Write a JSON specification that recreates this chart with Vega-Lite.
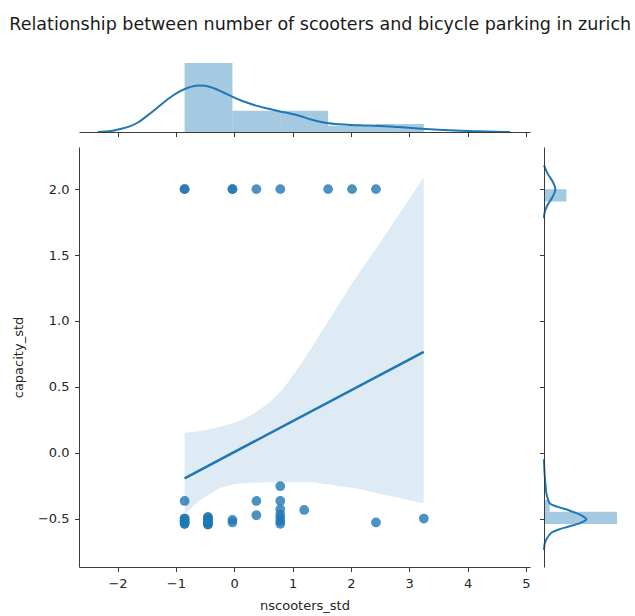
{
  "$schema": "https://vega.github.io/schema/vega-lite/v6.json",
  "padding": {"left": 9, "top": 16, "right": 5, "bottom": 5},
  "background": "white",
  "title": {"text": "Relationship between number of scooters and bicycle parking in zurich", "fontSize": 17.5, "font": "DejaVu Sans", "fontWeight": "normal", "color": "#1a1a1a", "offset": 14.5, "anchor": "middle"},
  "config": {
    "view": {"stroke": null},
    "axis": {"grid": false, "domainColor": "#3a3a3a", "tickColor": "#3a3a3a", "labelColor": "#262626", "titleColor": "#262626", "labelFont": "DejaVu Sans", "titleFont": "DejaVu Sans", "labelFontSize": 13, "titleFontSize": 13, "titleFontWeight": "normal", "tickSize": 4.5, "domainWidth": 1, "tickWidth": 1}
  },
  "datasets": {
    "points": [
      {"x": -0.85, "y": 2.0}, {"x": -0.85, "y": 2.0}, {"x": -0.03, "y": 2.0}, {"x": -0.03, "y": 2.0},
      {"x": 0.38, "y": 2.0}, {"x": 0.79, "y": 2.0}, {"x": 1.61, "y": 2.0}, {"x": 2.02, "y": 2.0}, {"x": 2.43, "y": 2.0},
      {"x": -0.85, "y": -0.367}, {"x": -0.85, "y": -0.5}, {"x": -0.85, "y": -0.5}, {"x": -0.85, "y": -0.52}, {"x": -0.85, "y": -0.52}, {"x": -0.85, "y": -0.54}, {"x": -0.85, "y": -0.54},
      {"x": -0.45, "y": -0.49}, {"x": -0.45, "y": -0.49}, {"x": -0.45, "y": -0.51}, {"x": -0.45, "y": -0.51}, {"x": -0.45, "y": -0.53}, {"x": -0.45, "y": -0.53}, {"x": -0.45, "y": -0.545}, {"x": -0.45, "y": -0.545},
      {"x": -0.03, "y": -0.51}, {"x": -0.03, "y": -0.53},
      {"x": 0.38, "y": -0.367}, {"x": 0.38, "y": -0.475},
      {"x": 0.79, "y": -0.255}, {"x": 0.79, "y": -0.367}, {"x": 0.79, "y": -0.43}, {"x": 0.79, "y": -0.47}, {"x": 0.79, "y": -0.495}, {"x": 0.79, "y": -0.52}, {"x": 0.79, "y": -0.54},
      {"x": 1.2, "y": -0.435}, {"x": 2.43, "y": -0.53}, {"x": 3.25, "y": -0.5}
    ],
    "regline": [{"x": -0.85, "y": -0.195}, {"x": 3.25, "y": 0.765}],
    "band": [
      {"x": -0.85, "lo": -0.47, "hi": 0.15}, {"x": -0.76, "lo": -0.43, "hi": 0.155}, {"x": -0.65, "lo": -0.385, "hi": 0.16},
      {"x": -0.533, "lo": -0.347, "hi": 0.168}, {"x": -0.4, "lo": -0.31, "hi": 0.18}, {"x": -0.246, "lo": -0.271, "hi": 0.198},
      {"x": 0.041, "lo": -0.238, "hi": 0.232}, {"x": 0.326, "lo": -0.228, "hi": 0.295}, {"x": 0.785, "lo": -0.225, "hi": 0.46},
      {"x": 1.1, "lo": -0.225, "hi": 0.645}, {"x": 1.3, "lo": -0.225, "hi": 0.78}, {"x": 1.5, "lo": -0.235, "hi": 0.92},
      {"x": 1.873, "lo": -0.258, "hi": 1.18}, {"x": 2.0, "lo": -0.265, "hi": 1.27}, {"x": 2.447, "lo": -0.309, "hi": 1.56},
      {"x": 2.8, "lo": -0.34, "hi": 1.79}, {"x": 3.247, "lo": -0.385, "hi": 2.09}
    ],
    "histx": [
      {"bin_start": -0.85, "bin_end": -0.03, "density": 0.69},
      {"bin_start": -0.03, "bin_end": 0.79, "density": 0.213},
      {"bin_start": 0.79, "bin_end": 1.61, "density": 0.213},
      {"bin_start": 1.61, "bin_end": 2.43, "density": 0.063},
      {"bin_start": 2.43, "bin_end": 3.25, "density": 0.08}
    ],
    "kdex": [
      {"x": -2.34, "density": 0}, {"x": -2.2, "density": 0.004}, {"x": -2.08, "density": 0.013}, {"x": -1.95, "density": 0.03},
      {"x": -1.79, "density": 0.056}, {"x": -1.65, "density": 0.095}, {"x": -1.505, "density": 0.156}, {"x": -1.36, "density": 0.222},
      {"x": -1.22, "density": 0.29}, {"x": -1.08, "density": 0.352}, {"x": -0.933, "density": 0.406}, {"x": -0.78, "density": 0.445},
      {"x": -0.62, "density": 0.466}, {"x": -0.5, "density": 0.462}, {"x": -0.36, "density": 0.44}, {"x": -0.2, "density": 0.4},
      {"x": -0.045, "density": 0.356}, {"x": 0.14, "density": 0.31}, {"x": 0.326, "density": 0.273}, {"x": 0.55, "density": 0.238},
      {"x": 0.785, "density": 0.206}, {"x": 0.96, "density": 0.185}, {"x": 1.13, "density": 0.16}, {"x": 1.3, "density": 0.128},
      {"x": 1.45, "density": 0.105}, {"x": 1.588, "density": 0.09}, {"x": 1.8, "density": 0.077}, {"x": 2.0, "density": 0.07},
      {"x": 2.2, "density": 0.066}, {"x": 2.418, "density": 0.063}, {"x": 2.6, "density": 0.058}, {"x": 2.8, "density": 0.05},
      {"x": 3.0, "density": 0.042}, {"x": 3.22, "density": 0.033}, {"x": 3.5, "density": 0.023}, {"x": 3.88, "density": 0.013},
      {"x": 4.2, "density": 0.007}, {"x": 4.5, "density": 0.003}, {"x": 4.73, "density": 0}
    ],
    "histy": [
      {"bin_start": -0.542, "bin_end": -0.448, "density": 7.3},
      {"bin_start": -0.448, "bin_end": -0.359, "density": 0.57},
      {"bin_start": 1.906, "bin_end": 2.0, "density": 2.24}
    ],
    "kdey": [
      {"seg": "low", "cap": -0.74, "density": 0}, {"seg": "low", "cap": -0.69, "density": 0.07}, {"seg": "low", "cap": -0.65, "density": 0.3},
      {"seg": "low", "cap": -0.608, "density": 0.74}, {"seg": "low", "cap": -0.585, "density": 1.4}, {"seg": "low", "cap": -0.562, "density": 2.4},
      {"seg": "low", "cap": -0.535, "density": 3.6}, {"seg": "low", "cap": -0.506, "density": 4.24}, {"seg": "low", "cap": -0.475, "density": 3.7},
      {"seg": "low", "cap": -0.455, "density": 3.1}, {"seg": "low", "cap": -0.435, "density": 2.4}, {"seg": "low", "cap": -0.41, "density": 1.3},
      {"seg": "low", "cap": -0.385, "density": 0.57}, {"seg": "low", "cap": -0.35, "density": 0.38}, {"seg": "low", "cap": -0.309, "density": 0.24},
      {"seg": "low", "cap": -0.25, "density": 0.16}, {"seg": "low", "cap": -0.2, "density": 0.1}, {"seg": "low", "cap": -0.106, "density": 0.02},
      {"seg": "low", "cap": -0.05, "density": 0},
      {"seg": "high", "cap": 1.78, "density": 0}, {"seg": "high", "cap": 1.82, "density": 0.05}, {"seg": "high", "cap": 1.88, "density": 0.35},
      {"seg": "high", "cap": 1.94, "density": 0.85}, {"seg": "high", "cap": 2.0, "density": 1.14}, {"seg": "high", "cap": 2.06, "density": 0.85},
      {"seg": "high", "cap": 2.12, "density": 0.35}, {"seg": "high", "cap": 2.18, "density": 0}
    ]
  },
  "spacing": 15,
  "bounds": "flush",
  "resolve": {"scale": {"x": "independent", "y": "independent"}},
  "vconcat": [
    {
      "width": 451,
      "height": 84,
      "layer": [
        {
          "data": {"name": "histx"},
          "mark": {"type": "rect", "color": "#1f77b4", "opacity": 0.4},
          "encoding": {
            "x": {"field": "bin_start", "type": "quantitative", "scale": {"domain": [-2.66, 5.07], "nice": false, "zero": false}, "axis": {"values": [-2, -1, 0, 1, 2, 3, 4, 5], "labels": false, "title": null, "zindex": 1}},
            "x2": {"field": "bin_end"},
            "y": {"field": "density", "type": "quantitative", "scale": {"domain": [0, 0.84], "nice": false}, "axis": null},
            "y2": {"datum": 0}
          }
        },
        {
          "data": {"name": "kdex"},
          "mark": {"type": "line", "color": "#1f77b4", "strokeWidth": 2, "interpolate": "monotone"},
          "encoding": {
            "x": {"field": "x", "type": "quantitative", "title": null},
            "y": {"field": "density", "type": "quantitative"}
          }
        }
      ]
    },
    {
      "spacing": 14,
      "bounds": "flush",
      "resolve": {"scale": {"x": "independent", "y": "independent"}},
      "hconcat": [
        {
          "width": 451,
          "height": 420,
          "layer": [
            {
              "data": {"name": "band"},
              "mark": {"type": "area", "color": "#1f77b4", "opacity": 0.15, "interpolate": "monotone"},
              "encoding": {
                "x": {"field": "x", "type": "quantitative", "title": "nscooters_std", "scale": {"domain": [-2.66, 5.07], "nice": false, "zero": false}, "axis": {"values": [-2, -1, 0, 1, 2, 3, 4, 5], "format": "d", "labelPadding": 6, "titlePadding": 9}},
                "y": {"field": "lo", "type": "quantitative", "title": "capacity_std", "scale": {"domain": [-0.868, 2.32], "nice": false, "zero": false}, "axis": {"values": [-0.5, 0, 0.5, 1, 1.5, 2], "format": ".1f", "labelPadding": 5.5, "titlePadding": 12}},
                "y2": {"field": "hi"}
              }
            },
            {
              "data": {"name": "points"},
              "mark": {"type": "circle", "color": "#1f77b4", "opacity": 0.8, "size": 95},
              "encoding": {
                "x": {"field": "x", "type": "quantitative", "title": "nscooters_std"},
                "y": {"field": "y", "type": "quantitative", "title": "capacity_std"}
              }
            },
            {
              "data": {"name": "regline"},
              "mark": {"type": "line", "color": "#1f77b4", "strokeWidth": 2.6},
              "encoding": {
                "x": {"field": "x", "type": "quantitative", "title": "nscooters_std"},
                "y": {"field": "y", "type": "quantitative", "title": "capacity_std"}
              }
            }
          ]
        },
        {
          "width": 84,
          "height": 420,
          "layer": [
            {
              "data": {"name": "histy"},
              "mark": {"type": "rect", "color": "#1f77b4", "opacity": 0.4},
              "encoding": {
                "y": {"field": "bin_start", "type": "quantitative", "scale": {"domain": [-0.868, 2.32], "nice": false, "zero": false}, "axis": {"values": [-0.5, 0, 0.5, 1, 1.5, 2], "labels": false, "title": null, "zindex": 1}},
                "y2": {"field": "bin_end"},
                "x": {"field": "density", "type": "quantitative", "scale": {"domain": [0, 8.4], "nice": false}, "axis": null},
                "x2": {"datum": 0}
              }
            },
            {
              "data": {"name": "kdey"},
              "mark": {"type": "line", "color": "#1f77b4", "strokeWidth": 2, "interpolate": "catmull-rom"},
              "encoding": {
                "y": {"field": "cap", "type": "quantitative", "title": null},
                "x": {"field": "density", "type": "quantitative"},
                "detail": {"field": "seg", "type": "nominal"},
                "order": {"field": "cap", "type": "quantitative"}
              }
            }
          ]
        }
      ]
    }
  ]
}
